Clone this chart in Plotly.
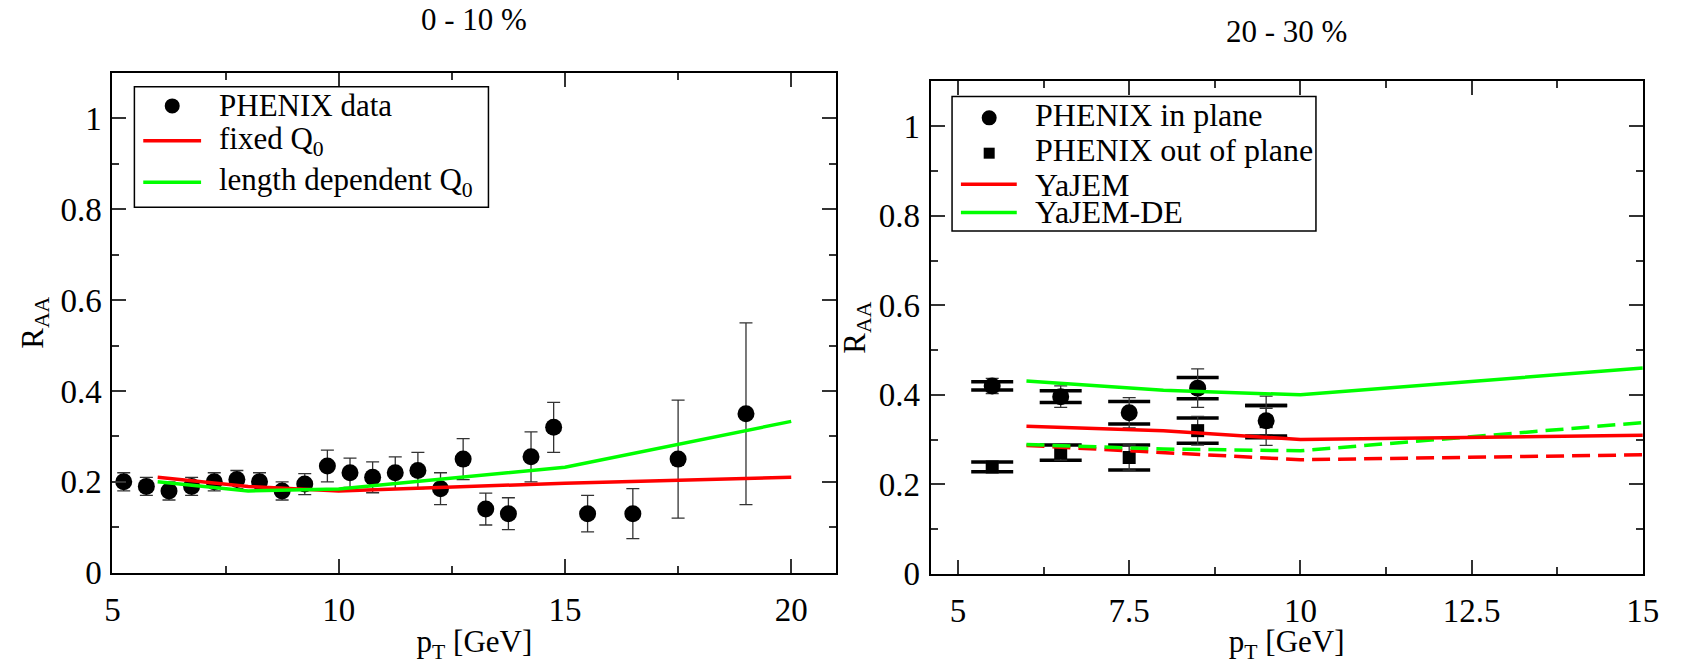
import plotly.graph_objects as go

W, H = 1681, 664
FONT = "Liberation Serif, Times New Roman, Times, serif"
RED = "#ff0000"
GREEN = "#00ff00"

# ---- 0 - 10 % centrality: PHENIX data and model curves ----
pt_010 = [5.25, 5.75, 6.25, 6.75, 7.25, 7.75, 8.25, 8.75, 9.25, 9.75, 10.25, 10.75,
          11.25, 11.75, 12.25, 12.75, 13.25, 13.75, 14.25, 14.75, 15.5, 16.5, 17.5, 19.0]
raa_010 = [0.20, 0.19, 0.18, 0.19, 0.20, 0.205, 0.20, 0.18, 0.195, 0.235, 0.22, 0.21,
           0.22, 0.225, 0.185, 0.25, 0.14, 0.13, 0.255, 0.32, 0.13, 0.13, 0.25, 0.35]
err_010 = [0.02, 0.02, 0.02, 0.02, 0.02, 0.02, 0.02, 0.02, 0.023, 0.035, 0.032, 0.034,
           0.035, 0.04, 0.035, 0.045, 0.035, 0.035, 0.055, 0.055, 0.04, 0.055, 0.13, 0.2]

pt_model_010 = [6, 8, 10, 15, 20]
fixed_q0 = [0.21, 0.19, 0.18, 0.197, 0.21]
lendep_q0 = [0.20, 0.18, 0.184, 0.232, 0.333]

# ---- 20 - 30 % centrality: in / out of reaction plane ----
pt_2030 = [5.5, 6.5, 7.5, 8.5, 9.5]
in_plane = [0.42, 0.396, 0.36, 0.415, 0.342]
in_stat = [0.017, 0.024, 0.034, 0.043, 0.055]
in_sys = [0.009, 0.013, 0.025, 0.024, 0.034]
out_plane = [0.239, 0.271, 0.26, 0.32, 0.34]
out_stat = [0.011, 0.017, 0.028, 0.032, 0.03]
out_sys = [0.011, 0.017, 0.028, 0.028, 0.036]

pt_model_2030 = [6, 8, 10, 15]
yajem_in = [0.33, 0.32, 0.30, 0.31]
yajem_out = [0.287, 0.271, 0.255, 0.266]
yajemde_in = [0.431, 0.41, 0.40, 0.46]
yajemde_out = [0.289, 0.279, 0.275, 0.338]

fig = go.Figure()

err_style = dict(type="data", color="#333333", thickness=1.3, width=6.5)

# left panel
fig.add_trace(go.Scatter(
    x=pt_010, y=raa_010, mode="markers", xaxis="x", yaxis="y",
    marker=dict(symbol="circle", size=17, color="black"),
    error_y=dict(array=err_010, **err_style), showlegend=False))
fig.add_trace(go.Scatter(
    x=pt_model_010, y=fixed_q0, mode="lines", xaxis="x", yaxis="y",
    line=dict(color=RED, width=3.5), showlegend=False))
fig.add_trace(go.Scatter(
    x=pt_model_010, y=lendep_q0, mode="lines", xaxis="x", yaxis="y",
    line=dict(color=GREEN, width=3.5), showlegend=False))


def sys_caps(x, y, s):
    # thick horizontal bars marking the systematic uncertainty band
    xs = list(x) + list(x)
    ys = [v + e for v, e in zip(y, s)] + [v - e for v, e in zip(y, s)]
    return go.Scatter(
        x=xs, y=ys, mode="markers", xaxis="x2", yaxis="y2",
        marker=dict(symbol="line-ew", size=30, line=dict(color="black", width=3.5)),
        showlegend=False, hoverinfo="skip")


# right panel
fig.add_trace(sys_caps(pt_2030, out_plane, out_sys))
fig.add_trace(go.Scatter(
    x=pt_2030, y=out_plane, mode="markers", xaxis="x2", yaxis="y2",
    marker=dict(symbol="square", size=13, color="black"),
    error_y=dict(array=out_stat, **err_style), showlegend=False))
fig.add_trace(sys_caps(pt_2030, in_plane, in_sys))
fig.add_trace(go.Scatter(
    x=pt_2030, y=in_plane, mode="markers", xaxis="x2", yaxis="y2",
    marker=dict(symbol="circle", size=17, color="black"),
    error_y=dict(array=in_stat, **err_style), showlegend=False))
for yy, col, dash in [(yajem_out, RED, "18px,8px"), (yajemde_out, GREEN, "18px,8px"),
                      (yajem_in, RED, "solid"), (yajemde_in, GREEN, "solid")]:
    fig.add_trace(go.Scatter(
        x=pt_model_2030, y=yy, mode="lines", xaxis="x2", yaxis="y2",
        line=dict(color=col, width=3.5, dash=dash), showlegend=False))


def px(x):
    return x / W


def py(y):
    return 1 - y / H


tickfont = dict(family=FONT, size=33, color="black")
titlefont = dict(family=FONT, size=31, color="black")

axis_common = dict(
    showline=True, linecolor="black", linewidth=2, mirror="ticks",
    ticks="inside", ticklen=14, tickwidth=1.5, tickcolor="#333333",
    showgrid=False, zeroline=False, tickfont=tickfont,
)
minor_common = dict(ticks="inside", ticklen=7, tickwidth=1.5, tickcolor="#333333")

fig.update_layout(
    width=W, height=H,
    margin=dict(l=0, r=0, t=0, b=0),
    paper_bgcolor="white", plot_bgcolor="white",
    showlegend=False,
    xaxis=dict(domain=[px(106), px(841)], range=[5, 21], dtick=5, tick0=5,
               minor=dict(dtick=2.5, **minor_common), ticklabelstandoff=7,
               title=dict(text="p<sub>T</sub> [GeV]", font=titlefont, standoff=3),
               anchor="y", **axis_common),
    yaxis=dict(domain=[py(589.6), py(75)], range=[0, 1.1], dtick=0.2, tick0=0,
               minor=dict(dtick=0.1, **minor_common), ticklabelstandoff=2,
               title=dict(text="R<sub>AA</sub>", font=titlefont, standoff=8),
               anchor="x", **axis_common),
    xaxis2=dict(domain=[px(936.5), px(1659.5)], range=[4.6, 15], dtick=2.5, tick0=5,
                minor=dict(dtick=1.25, **minor_common), ticklabelstandoff=7,
                title=dict(text="p<sub>T</sub> [GeV]", font=titlefont, standoff=3),
                anchor="y2", **axis_common),
    yaxis2=dict(domain=[py(590.8), py(83.9)], range=[0, 1.1], dtick=0.2, tick0=0,
                minor=dict(dtick=0.1, **minor_common), ticklabelstandoff=2,
                title=dict(text="R<sub>AA</sub>", font=titlefont, standoff=4),
                anchor="x2", **axis_common),
)

shapes = []
annotations = []

# panel headings
annotations.append(dict(text="0 - 10 %", x=px(473), y=py(20), xref="paper", yref="paper",
                        xanchor="center", yanchor="middle", showarrow=False,
                        font=dict(family=FONT, size=31, color="black")))
annotations.append(dict(text="20 - 30 %", x=px(1298), y=py(32), xref="paper", yref="paper",
                        xanchor="center", yanchor="middle", showarrow=False,
                        font=dict(family=FONT, size=31, color="black")))


def legend_box(x0, y0, x1, y1):
    shapes.append(dict(type="rect", xref="paper", yref="paper",
                       x0=px(x0), x1=px(x1), y0=py(y1), y1=py(y0),
                       line=dict(color="black", width=1.5), fillcolor="white", layer="above"))


def legend_marker(kind, cx, cy, r):
    shapes.append(dict(type=kind, xref="paper", yref="paper",
                       xsizemode="pixel", ysizemode="pixel",
                       xanchor=px(cx), yanchor=py(cy), x0=-r, x1=r, y0=-r, y1=r,
                       fillcolor="black", line=dict(color="black", width=0), layer="above"))


def legend_line(x0, x1, y, color):
    shapes.append(dict(type="line", xref="paper", yref="paper",
                       x0=px(x0), x1=px(x1), y0=py(y), y1=py(y),
                       line=dict(color=color, width=3.5), layer="above"))


def legend_text(text, x, y, size):
    annotations.append(dict(text=text, x=px(x), y=py(y), xref="paper", yref="paper",
                            xanchor="left", yanchor="middle", showarrow=False,
                            font=dict(family=FONT, size=size, color="black")))


# legend, left panel
legend_box(128.3, 89.3, 487.7, 213.3)
legend_marker("circle", 166.7, 109, 7.5)
legend_line(137.3, 196, 145, RED)
legend_line(137.3, 196, 187.7, GREEN)
legend_text("PHENIX data", 211.7, 109, 31)
legend_text("fixed Q<sub>0</sub>", 211.7, 145, 31)
legend_text("length dependent Q<sub>0</sub>", 211.7, 187, 31)

# legend, right panel
legend_box(958.3, 99.3, 1327.7, 237.7)
legend_marker("circle", 996, 121.3, 7.5)
legend_marker("rect", 996, 157.7, 5.5)
legend_line(967.3, 1024, 189.7, RED)
legend_line(967.3, 1024, 218.7, GREEN)
legend_text("PHENIX in plane", 1040.7, 118, 32)
legend_text("PHENIX out of plane", 1040.7, 154, 32)
legend_text("YaJEM", 1040.7, 190, 32)
legend_text("YaJEM-DE", 1040.7, 218, 32)

fig.update_layout(shapes=shapes, annotations=annotations)

fig.write_html("out.html")
